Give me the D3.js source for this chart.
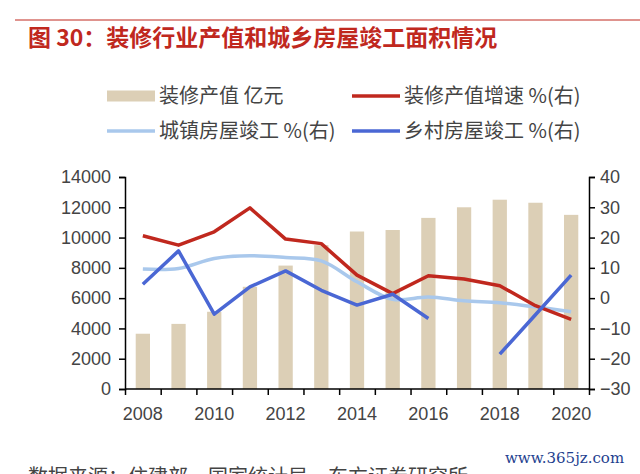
<!DOCTYPE html>
<html>
<head>
<meta charset="utf-8">
<title>装修行业产值和城乡房屋竣工面积情况</title>
<script src="https://d3js.org/d3.v7.min.js"></script>
<style>
  body { margin: 0; background: #fff; }
  svg { display: block; font-family: "Liberation Sans", Arial, "Noto Sans CJK SC", sans-serif; }
  .cjk { font-family: "Noto Sans CJK SC", "Liberation Sans", sans-serif; }
</style>
</head>
<body>
<div id="chart"></div>
<script>
// Data
const years   = [2008, 2009, 2010, 2011, 2012, 2013, 2014, 2015, 2016, 2017, 2018, 2019, 2020];
const output  = [3650, 4300, 5100, 6750, 8150, 9500, 10400, 10500, 11300, 12000, 12500, 12300, 11500]; // 装修产值 亿元
const growth  = [20.6, 17.5, 21.9, 29.8, 19.5, 18.0, 7.6, 1.5, 7.4, 6.3, 4.1, -2.5, -7.0];          // 装修产值增速 %
const urban   = [9.6, 9.8, 13.1, 14.0, 13.4, 12.3, 5.4, -0.4, 0.4, -0.9, -1.5, -2.9, -4.5];          // 城镇房屋竣工 %
const rural   = [4.6, 15.6, -5.3, 3.7, 9.0, 2.6, -2.3, 1.3, -6.7, null, -18.5, -5.5, 7.6];           // 乡村房屋竣工 %
const leftTicks  = [0, 2000, 4000, 6000, 8000, 10000, 12000, 14000];
const rightTicks = [-30, -20, -10, 0, 10, 20, 30, 40];
const xLabels = [2008, 2010, 2012, 2014, 2016, 2018, 2020];

const width = 640, height = 474;
const colBar = "#dccfb6", colRed = "#c0281e", colLight = "#a9c8ec", colDark = "#4a67d4";
const textCol = "#444";

var svg = d3.select("#chart").append("svg")
  .attr("width", width)
  .attr("height", height);

// Top rule and title
svg.append("line")
  .attr("x1", 15).attr("x2", 640).attr("y1", 20).attr("y2", 20)
  .attr("stroke", "#c0281e").attr("stroke-width", 1);
svg.append("text")
  .attr("class", "cjk")
  .attr("x", 28).attr("y", 46)
  .attr("fill", "#c0281e")
  .attr("font-size", 23).attr("font-weight", "bold")
  .text("图 30：装修行业产值和城乡房屋竣工面积情况");

// Scales
var x = d3.scaleBand().domain(years).range([125, 589]).paddingInner(0.6).paddingOuter(0.3);
var xEdge = d3.scaleLinear().domain([0, years.length]).range([125, 589]);
var yL = d3.scaleLinear().domain([0, 14000]).range([389, 177]);
var yR = d3.scaleLinear().domain([-30, 40]).range([389, 177]);
var cx = function (i) { return x(years[i]) + x.bandwidth() / 2; };

// Bars
svg.append("g").selectAll("rect")
  .data(output)
  .enter()
  .append("rect")
    .attr("x", function (d, i) { return x(years[i]); })
    .attr("y", function (d) { return yL(d); })
    .attr("width", x.bandwidth())
    .attr("height", function (d) { return yL(0) - yL(d); })
    .attr("fill", colBar);

// Lines
function addLine(values, color, smooth) {
  var line = d3.line()
    .defined(function (d) { return d != null; })
    .x(function (d, i) { return cx(i); })
    .y(function (d) { return yR(d); });
  if (smooth) line.curve(d3.curveCatmullRom.alpha(0.5));
  svg.append("path")
    .datum(values)
    .attr("d", line)
    .attr("fill", "none")
    .attr("stroke", color)
    .attr("stroke-width", 3.5)
    .attr("stroke-linejoin", "round");
}
addLine(urban, colLight, true);
addLine(growth, colRed, false);
addLine(rural, colDark, false);

// Axes
var leftAxis = svg.append("g")
  .attr("transform", "translate(125,0)")
  .call(d3.axisLeft(yL).tickValues(leftTicks).tickFormat(d3.format("d")).tickSize(6).tickPadding(8));
var rightAxis = svg.append("g")
  .attr("transform", "translate(589,0)")
  .call(d3.axisRight(yR).tickValues(rightTicks).tickSize(6).tickPadding(5));
var bottomAxis = svg.append("g")
  .attr("transform", "translate(0,389)")
  .call(d3.axisBottom(xEdge).ticks(years.length).tickFormat("").tickSize(6));

[leftAxis, rightAxis, bottomAxis].forEach(function (g) {
  g.select(".domain").attr("stroke", "#000").attr("stroke-width", 1.5);
  g.selectAll(".tick line").attr("stroke", "#000").attr("stroke-width", 1.5);
  g.selectAll("text").attr("font-size", 18).attr("fill", textCol)
    .attr("font-family", "'Liberation Sans', Arial, sans-serif");
});
bottomAxis.select(".domain").attr("d", "M125,0H589");

// Year labels every other year
svg.append("g").selectAll("text")
  .data(xLabels)
  .enter()
  .append("text")
    .attr("x", function (d) { return x(d) + x.bandwidth() / 2; })
    .attr("y", 420)
    .attr("text-anchor", "middle")
    .attr("font-size", 18)
    .attr("fill", textCol)
    .text(function (d) { return d; });

// Legend
var legend = [
  { label: "装修产值 亿元", color: colBar, w: 11, x: 107, y: 96 },
  { label: "装修产值增速 %(右)", color: colRed, w: 3.5, x: 352, y: 96 },
  { label: "城镇房屋竣工 %(右)", color: colLight, w: 3.5, x: 107, y: 131 },
  { label: "乡村房屋竣工 %(右)", color: colDark, w: 3.5, x: 352, y: 131 }
];
var lg = svg.append("g").selectAll("g").data(legend).enter().append("g");
lg.append("line")
  .attr("x1", function (d) { return d.x; })
  .attr("x2", function (d) { return d.x + 48; })
  .attr("y1", function (d) { return d.y; })
  .attr("y2", function (d) { return d.y; })
  .attr("stroke", function (d) { return d.color; })
  .attr("stroke-width", function (d) { return d.w; });
lg.append("text")
  .attr("class", "cjk")
  .attr("x", function (d) { return d.x + 52; })
  .attr("y", function (d) { return d.y + 7; })
  .attr("font-size", 20)
  .attr("fill", textCol)
  .text(function (d) { return d.label; });

// Footer (cut off at the bottom edge) and watermark
svg.append("text")
  .attr("class", "cjk")
  .attr("x", 28).attr("y", 484)
  .attr("font-size", 20)
  .attr("fill", textCol)
  .text("数据来源：住建部，国家统计局，东方证券研究所");
svg.append("text")
  .attr("x", 505).attr("y", 463)
  .attr("font-family", "'DejaVu Serif', serif")
  .attr("font-size", 15)
  .attr("fill", "#1f3f8f")
  .text("www.365jz.com");
svg.append("text")
  .attr("class", "cjk")
  .attr("x", 505).attr("y", 488)
  .attr("font-size", 16)
  .attr("fill", textCol)
  .text("装饰之家资讯");
</script>
</body>
</html>
